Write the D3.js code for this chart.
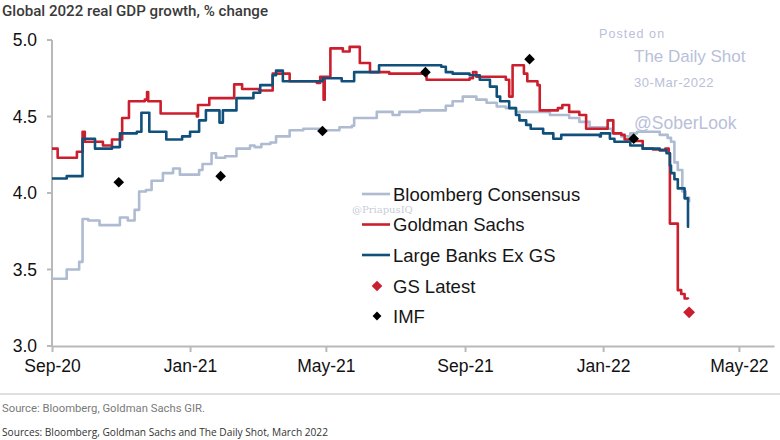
<!DOCTYPE html>
<html>
<head>
<meta charset="utf-8">
<script src="https://cdn.jsdelivr.net/npm/d3@7"></script>
<style>
  body { margin: 0; background: #fff; }
  svg { display: block; }
</style>
</head>
<body>
<svg width="780" height="440"></svg>
<script>
// Series (date, % change)
var bloomberg = [
  ["2020-09-01", 3.44], ["2020-09-12", 3.44], ["2020-09-14", 3.50], ["2020-09-24", 3.50],
  ["2020-09-25", 3.55], ["2020-09-27", 3.55], ["2020-09-28", 3.83], ["2020-10-03", 3.82],
  ["2020-10-13", 3.79], ["2020-10-26", 3.79], ["2020-10-31", 3.84], ["2020-11-07", 3.82],
  ["2020-11-13", 3.89], ["2020-11-17", 4.01], ["2020-11-23", 4.02], ["2020-11-28", 4.08],
  ["2020-12-08", 4.13], ["2020-12-17", 4.16], ["2020-12-23", 4.12], ["2021-01-03", 4.12],
  ["2021-01-09", 4.15], ["2021-01-12", 4.19], ["2021-01-20", 4.26], ["2021-01-24", 4.23],
  ["2021-02-01", 4.24], ["2021-02-11", 4.29], ["2021-02-23", 4.31], ["2021-02-27", 4.30],
  ["2021-03-05", 4.32], ["2021-03-13", 4.33], ["2021-03-18", 4.37], ["2021-03-30", 4.41],
  ["2021-04-11", 4.42], ["2021-04-28", 4.41], ["2021-05-13", 4.43], ["2021-05-24", 4.44],
  ["2021-05-26", 4.49], ["2021-06-09", 4.49], ["2021-06-15", 4.53], ["2021-06-29", 4.51],
  ["2021-07-05", 4.53], ["2021-07-23", 4.54], ["2021-08-09", 4.54], ["2021-08-15", 4.57],
  ["2021-08-21", 4.60], ["2021-08-30", 4.63], ["2021-09-05", 4.63], ["2021-09-11", 4.61],
  ["2021-09-20", 4.59], ["2021-09-29", 4.565], ["2021-10-07", 4.555], ["2021-10-16", 4.53],
  ["2021-11-06", 4.53], ["2021-11-15", 4.51], ["2021-12-02", 4.49], ["2021-12-11", 4.465],
  ["2021-12-20", 4.43], ["2022-01-04", 4.42], ["2022-01-09", 4.39], ["2022-01-17", 4.37],
  ["2022-01-25", 4.39], ["2022-01-31", 4.40], ["2022-02-20", 4.38], ["2022-02-27", 4.36],
  ["2022-03-02", 4.335], ["2022-03-05", 4.20], ["2022-03-08", 4.15], ["2022-03-10", 4.15],
  ["2022-03-12", 4.01], ["2022-03-15", 3.97], ["2022-03-18", 3.94]
];

var goldman = [
  ["2020-09-01", 4.29], ["2020-09-06", 4.23], ["2020-09-23", 4.27], ["2020-09-28", 4.40],
  ["2020-09-30", 4.335], ["2020-10-16", 4.31], ["2020-10-24", 4.35], ["2020-11-02", 4.49],
  ["2020-11-08", 4.60], ["2020-11-22", 4.61], ["2020-11-24", 4.66], ["2020-11-25", 4.60],
  ["2020-12-05", 4.60], ["2020-12-06", 4.52], ["2021-01-07", 4.50], ["2021-01-08", 4.575],
  ["2021-01-18", 4.62], ["2021-02-09", 4.71], ["2021-02-16", 4.68], ["2021-03-03", 4.67],
  ["2021-03-15", 4.78], ["2021-03-30", 4.73], ["2021-04-23", 4.72], ["2021-04-26", 4.76],
  ["2021-04-29", 4.61], ["2021-04-30", 4.76], ["2021-05-05", 4.945], ["2021-05-16", 4.925],
  ["2021-05-22", 4.955], ["2021-05-30", 4.955], ["2021-05-31", 4.85], ["2021-06-09", 4.79],
  ["2021-06-26", 4.78], ["2021-07-23", 4.78], ["2021-07-29", 4.74], ["2021-09-05", 4.75],
  ["2021-09-08", 4.79], ["2021-09-11", 4.76], ["2021-10-07", 4.74], ["2021-10-10", 4.63],
  ["2021-10-13", 4.835], ["2021-10-22", 4.835], ["2021-10-23", 4.78], ["2021-10-26", 4.73],
  ["2021-11-04", 4.705], ["2021-11-06", 4.54], ["2021-11-22", 4.555], ["2021-11-26", 4.575],
  ["2021-12-02", 4.53], ["2021-12-11", 4.51], ["2021-12-17", 4.42], ["2022-01-04", 4.42],
  ["2022-01-05", 4.475], ["2022-01-08", 4.475], ["2022-01-10", 4.39], ["2022-01-17", 4.38],
  ["2022-01-20", 4.35], ["2022-01-27", 4.34], ["2022-02-05", 4.29], ["2022-02-14", 4.285],
  ["2022-02-20", 4.28], ["2022-02-25", 4.29], ["2022-02-28", 4.26], ["2022-03-01", 3.80],
  ["2022-03-07", 3.80], ["2022-03-08", 3.365], ["2022-03-11", 3.34], ["2022-03-14", 3.31],
  ["2022-03-17", 3.305]
];

var largeBanks = [
  ["2020-09-01", 4.095], ["2020-09-14", 4.11], ["2020-09-28", 4.355], ["2020-10-09", 4.29],
  ["2020-10-24", 4.30], ["2020-10-31", 4.39], ["2020-11-15", 4.40], ["2020-11-19", 4.525],
  ["2020-11-23", 4.525], ["2020-11-26", 4.40], ["2020-12-11", 4.35], ["2020-12-25", 4.37],
  ["2021-01-01", 4.40], ["2021-01-09", 4.475], ["2021-01-15", 4.54], ["2021-01-25", 4.54],
  ["2021-01-27", 4.46], ["2021-01-30", 4.54], ["2021-02-11", 4.62], ["2021-02-26", 4.655],
  ["2021-03-04", 4.705], ["2021-03-15", 4.77], ["2021-03-18", 4.80], ["2021-03-22", 4.80],
  ["2021-03-24", 4.73], ["2021-04-25", 4.73], ["2021-04-28", 4.75], ["2021-05-15", 4.73],
  ["2021-05-26", 4.79], ["2021-06-16", 4.79], ["2021-06-17", 4.835], ["2021-08-11", 4.825],
  ["2021-08-15", 4.79], ["2021-08-21", 4.78], ["2021-09-05", 4.77], ["2021-09-14", 4.74],
  ["2021-09-23", 4.695], ["2021-09-29", 4.63], ["2021-10-02", 4.60], ["2021-10-10", 4.555],
  ["2021-10-16", 4.51], ["2021-10-19", 4.475], ["2021-10-25", 4.445], ["2021-10-29", 4.42],
  ["2021-11-06", 4.42], ["2021-11-09", 4.39], ["2021-11-18", 4.355], ["2021-11-25", 4.38],
  ["2021-12-29", 4.37], ["2021-12-30", 4.39], ["2022-01-04", 4.39], ["2022-01-07", 4.355],
  ["2022-01-11", 4.335], ["2022-01-25", 4.31], ["2022-02-05", 4.29], ["2022-02-20", 4.28],
  ["2022-02-26", 4.26], ["2022-03-01", 4.18], ["2022-03-02", 4.13], ["2022-03-05", 4.09],
  ["2022-03-08", 4.03], ["2022-03-12", 4.03], ["2022-03-14", 3.965], ["2022-03-16", 3.965],
  ["2022-03-17", 3.78], ["2022-03-18", 3.78]
];

var imf = [
  ["2020-10-30", 4.07], ["2021-01-28", 4.11], ["2021-04-28", 4.405],
  ["2021-07-28", 4.79], ["2021-10-28", 4.875], ["2022-01-28", 4.355]
];

var gsLatest = [["2022-03-18", 3.22]];

var xTickDates = ["2020-09-01", "2021-01-01", "2021-05-01", "2021-09-01", "2022-01-01", "2022-05-01"];
var xTickLabels = ["Sep-20", "Jan-21", "May-21", "Sep-21", "Jan-22", "May-22"];
var yTicks = [3.0, 3.5, 4.0, 4.5, 5.0];

var legendNames = ["Bloomberg Consensus", "Goldman Sachs", "Large Banks Ex GS", "GS Latest", "IMF"];

var colors = {
  bloomberg: "#aebbd1",
  goldman: "#cc1f2d",
  banks: "#10507a",
  imf: "#000",
  latest: "#c9202f",
  axis: "#b9b9b9"
};

var parseDate = d3.timeParse("%Y-%m-%d");
function toPoints(arr) {
  return arr.map(function(d) { return {x: parseDate(d[0]), y: d[1]}; });
}

var svg = d3.select("svg");

var x = d3.scaleTime()
    .domain([parseDate("2020-09-01"), parseDate("2022-06-01")])
    .range([52, 774]);
var y = d3.scaleLinear().domain([3, 5]).range([346, 40]);

// title
svg.append("text")
    .attr("x", 2).attr("y", 16)
    .attr("font-family", "Roboto, sans-serif")
    .attr("font-weight", 500)
    .attr("font-size", 14.5)
    .attr("fill", "#3a3a3a")
    .attr("textLength", 266)
    .attr("lengthAdjust", "spacingAndGlyphs")
    .text("Global 2022 real GDP growth, % change");

// watermark
var wm = svg.append("g")
    .attr("font-family", "Liberation Sans, Arial, sans-serif")
    .attr("fill", "#b9c0d9");
wm.append("text").attr("x", 599).attr("y", 38).attr("font-size", 12.5)
    .attr("letter-spacing", 1.1).text("Posted on");
wm.append("text").attr("x", 634).attr("y", 62).attr("font-size", 17).text("The Daily Shot");
wm.append("text").attr("x", 634).attr("y", 87).attr("font-size", 13)
    .attr("letter-spacing", 0.5).text("30-Mar-2022");
wm.append("text").attr("x", 634).attr("y", 129).attr("font-size", 17.5).text("@SoberLook");

// y axis
var yAxis = svg.append("g");
yAxis.append("line")
    .attr("x1", 52).attr("x2", 52)
    .attr("y1", y(5)).attr("y2", y(3))
    .attr("stroke", colors.axis).attr("stroke-width", 2);
yAxis.selectAll(".ytick")
    .data(yTicks)
    .enter().append("line")
    .attr("x1", 47).attr("x2", 52)
    .attr("y1", function(d) { return y(d); })
    .attr("y2", function(d) { return y(d); })
    .attr("stroke", colors.axis).attr("stroke-width", 2);
yAxis.selectAll(".ylab")
    .data(yTicks)
    .enter().append("text")
    .attr("x", 37)
    .attr("y", function(d) { return y(d) + 6; })
    .attr("text-anchor", "end")
    .attr("font-family", "Liberation Sans, Arial, sans-serif")
    .attr("font-size", 17.5)
    .attr("fill", "#111")
    .text(function(d) { return d.toFixed(1); });

// x axis
var xAxis = d3.axisBottom(x)
    .tickValues(xTickDates.map(parseDate))
    .tickFormat(function(d, i) { return xTickLabels[i]; })
    .tickSize(6)
    .tickSizeOuter(0)
    .tickPadding(8);

var xGroup = svg.append("g")
    .attr("transform", "translate(0," + y(3) + ")")
    .call(xAxis);
xGroup.select(".domain").attr("stroke", colors.axis).attr("stroke-width", 2);
xGroup.selectAll(".tick line").attr("stroke", colors.axis).attr("stroke-width", 2);
xGroup.selectAll(".tick text")
    .attr("font-family", "Liberation Sans, Arial, sans-serif")
    .attr("font-size", 17.5)
    .attr("fill", "#111");

// faint watermark under legend
svg.append("text")
    .attr("x", 352).attr("y", 213)
    .attr("font-family", "DejaVu Serif, serif")
    .attr("font-size", 10)
    .attr("fill", "#c9cdd8")
    .text("@PriapusIQ");

var line = d3.line()
    .curve(d3.curveStepAfter)
    .x(function(d) { return x(d.x); })
    .y(function(d) { return y(d.y); });

var series = [
  {data: bloomberg, color: colors.bloomberg},
  {data: goldman, color: colors.goldman},
  {data: largeBanks, color: colors.banks}
];

svg.selectAll(".series")
    .data(series)
    .enter().append("path")
    .attr("class", "series")
    .attr("d", function(s) { return line(toPoints(s.data)); })
    .attr("fill", "none")
    .attr("stroke", function(s) { return s.color; })
    .attr("stroke-width", 2.6)
    .attr("stroke-linejoin", "round");

var diamond = d3.symbol().type(d3.symbolDiamond2);

svg.selectAll(".imf")
    .data(toPoints(imf))
    .enter().append("path")
    .attr("class", "imf")
    .attr("transform", function(d) { return "translate(" + x(d.x) + "," + y(d.y) + ")"; })
    .attr("d", diamond.size(72)())
    .attr("fill", colors.imf);

svg.selectAll(".latest")
    .data(toPoints(gsLatest))
    .enter().append("path")
    .attr("class", "latest")
    .attr("transform", function(d) { return "translate(" + x(d.x) + "," + y(d.y) + ")"; })
    .attr("d", diamond.size(90)())
    .attr("fill", colors.latest);

// legend
var legend = svg.append("g")
    .attr("font-family", "Liberation Sans, Arial, sans-serif")
    .attr("font-size", 18.5)
    .attr("fill", "#161616");
var legendY = [194, 224.5, 255, 286, 316];
var legendKinds = [
  {type: "line", color: colors.bloomberg},
  {type: "line", color: colors.goldman},
  {type: "line", color: colors.banks},
  {type: "dot", color: colors.latest, size: 72},
  {type: "dot", color: colors.imf, size: 50}
];
legendKinds.forEach(function(k, i) {
  if (k.type == "line") {
    legend.append("line")
        .attr("x1", 362).attr("x2", 390)
        .attr("y1", legendY[i]).attr("y2", legendY[i])
        .attr("stroke", k.color).attr("stroke-width", 2.6);
  } else {
    legend.append("path")
        .attr("transform", "translate(377," + legendY[i] + ")")
        .attr("d", diamond.size(k.size)())
        .attr("fill", k.color);
  }
  legend.append("text")
      .attr("x", 393)
      .attr("y", legendY[i] + 6.5)
      .text(legendNames[i]);
});

// footer
svg.append("line")
    .attr("x1", 0).attr("x2", 780)
    .attr("y1", 394).attr("y2", 394)
    .attr("stroke", "#d4d4d4").attr("stroke-width", 1.5);

svg.append("text")
    .attr("x", 2).attr("y", 412)
    .attr("font-family", "Roboto, sans-serif")
    .attr("font-size", 11)
    .attr("fill", "#7a7a7a")
    .attr("textLength", 203)
    .attr("lengthAdjust", "spacingAndGlyphs")
    .text("Source: Bloomberg, Goldman Sachs GIR.");

svg.append("text")
    .attr("x", 2).attr("y", 436)
    .attr("font-family", "Open Sans, sans-serif")
    .attr("font-size", 11)
    .attr("fill", "#333")
    .attr("textLength", 326)
    .attr("lengthAdjust", "spacingAndGlyphs")
    .text("Sources: Bloomberg, Goldman Sachs and The Daily Shot, March 2022");
</script>
</body>
</html>
